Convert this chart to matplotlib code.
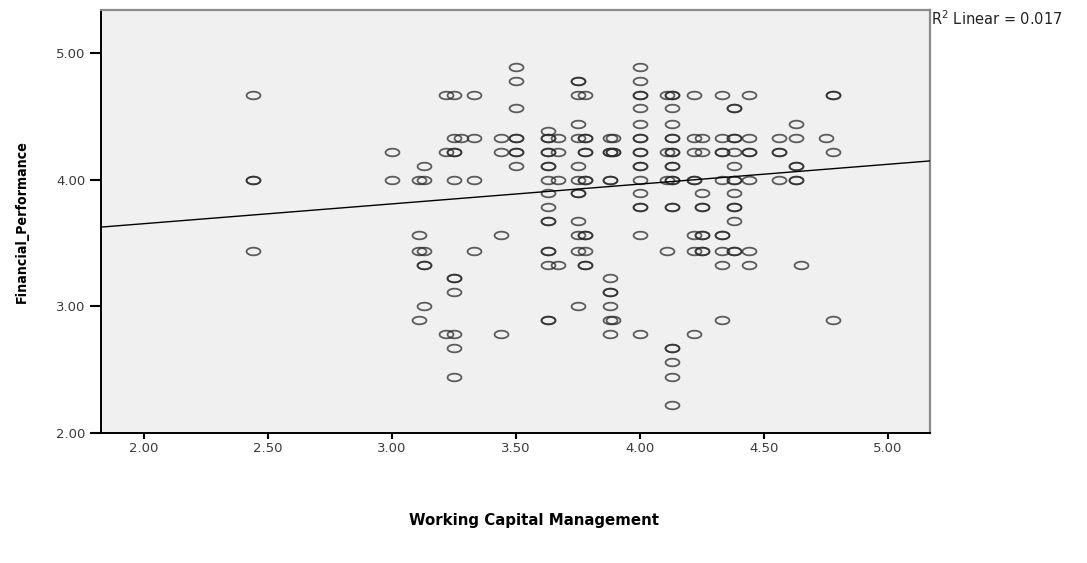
import numpy as np
import matplotlib
matplotlib.use("Agg")
import matplotlib.pyplot as plt
from matplotlib.path import Path

# ---- data; one line per x column ----
wcm = [
    2.44, 2.44, 2.44, 2.44,
    3.00, 3.00,
    3.11, 3.11, 3.11, 3.11,
    3.13, 3.13, 3.13, 3.13, 3.13, 3.13,
    3.22, 3.22, 3.22,
    3.25, 3.25, 3.25, 3.25, 3.25, 3.25, 3.25, 3.25, 3.25, 3.25, 3.25,
    3.28,
    3.33, 3.33, 3.33, 3.33,
    3.44, 3.44, 3.44, 3.44,
    3.50, 3.50, 3.50, 3.50, 3.50, 3.50, 3.50, 3.50,
    3.63, 3.63, 3.63, 3.63, 3.63, 3.63, 3.63, 3.63, 3.63, 3.63, 3.63, 3.63, 3.63, 3.63, 3.63, 3.63, 3.63,
    3.67, 3.67, 3.67, 3.67,
    3.75, 3.75, 3.75, 3.75, 3.75, 3.75, 3.75, 3.75, 3.75, 3.75, 3.75, 3.75, 3.75,
    3.78, 3.78, 3.78, 3.78, 3.78, 3.78, 3.78, 3.78, 3.78, 3.78, 3.78, 3.78,
    3.88, 3.88, 3.88, 3.88, 3.88, 3.88, 3.88, 3.88, 3.88, 3.88, 3.88,
    3.89, 3.89, 3.89, 3.89,
    4.00, 4.00, 4.00, 4.00, 4.00, 4.00, 4.00, 4.00, 4.00, 4.00, 4.00, 4.00, 4.00, 4.00, 4.00, 4.00, 4.00, 4.00,
    4.11, 4.11, 4.11, 4.11,
    4.13, 4.13, 4.13, 4.13, 4.13, 4.13, 4.13, 4.13, 4.13, 4.13, 4.13, 4.13, 4.13, 4.13, 4.13, 4.13, 4.13, 4.13, 4.13,
    4.22, 4.22, 4.22, 4.22, 4.22, 4.22, 4.22, 4.22,
    4.25, 4.25, 4.25, 4.25, 4.25, 4.25, 4.25, 4.25, 4.25,
    4.33, 4.33, 4.33, 4.33, 4.33, 4.33, 4.33, 4.33, 4.33, 4.33,
    4.38, 4.38, 4.38, 4.38, 4.38, 4.38, 4.38, 4.38, 4.38, 4.38, 4.38, 4.38, 4.38, 4.38,
    4.44, 4.44, 4.44, 4.44, 4.44, 4.44, 4.44,
    4.56, 4.56, 4.56, 4.56,
    4.63, 4.63, 4.63, 4.63, 4.63, 4.63,
    4.65,
    4.75,
    4.78, 4.78, 4.78, 4.78,
]
fin_perf = [
    4.67, 4.00, 4.00, 3.44,
    4.22, 4.00,
    4.00, 3.56, 3.44, 2.89,
    4.11, 4.00, 3.44, 3.33, 3.33, 3.00,
    4.67, 4.22, 2.78,
    4.67, 4.33, 4.22, 4.22, 4.00, 3.22, 3.22, 3.11, 2.78, 2.67, 2.44,
    4.33,
    4.67, 4.33, 4.00, 3.44,
    4.33, 4.22, 3.56, 2.78,
    4.89, 4.78, 4.56, 4.33, 4.33, 4.22, 4.22, 4.11,
    4.38, 4.33, 4.33, 4.22, 4.22, 4.11, 4.11, 4.00, 3.89, 3.78, 3.67, 3.67, 3.44, 3.44, 3.33, 2.89, 2.89,
    4.33, 4.22, 4.00, 3.33,
    4.78, 4.78, 4.67, 4.44, 4.33, 4.11, 4.00, 3.89, 3.89, 3.67, 3.56, 3.44, 3.00,
    4.67, 4.33, 4.33, 4.22, 4.22, 4.00, 4.00, 3.56, 3.56, 3.44, 3.33, 3.33,
    4.33, 4.22, 4.22, 4.00, 4.00, 3.22, 3.11, 3.11, 3.00, 2.89, 2.78,
    4.33, 4.22, 4.22, 2.89,
    4.89, 4.78, 4.67, 4.67, 4.56, 4.44, 4.33, 4.33, 4.22, 4.22, 4.11, 4.11, 4.00, 3.89, 3.78, 3.78, 3.56, 2.78,
    4.67, 4.22, 4.00, 3.44,
    4.67, 4.67, 4.56, 4.44, 4.33, 4.33, 4.22, 4.22, 4.11, 4.11, 4.00, 4.00, 3.78, 3.78, 2.67, 2.67, 2.56, 2.44, 2.22,
    4.67, 4.33, 4.22, 4.00, 4.00, 3.56, 3.44, 2.78,
    4.33, 4.22, 3.89, 3.78, 3.78, 3.56, 3.56, 3.44, 3.44,
    4.67, 4.33, 4.22, 4.22, 4.00, 3.56, 3.56, 3.44, 3.33, 2.89,
    4.56, 4.56, 4.33, 4.33, 4.22, 4.11, 4.00, 4.00, 3.89, 3.78, 3.78, 3.67, 3.44, 3.44,
    4.67, 4.33, 4.22, 4.22, 4.00, 3.44, 3.33,
    4.33, 4.22, 4.22, 4.00,
    4.44, 4.33, 4.11, 4.11, 4.00, 4.00,
    3.33,
    4.33,
    4.67, 4.67, 4.22, 2.89,
]
assert len(wcm) == len(fin_perf), (len(wcm), len(fin_perf))

fit_intercept = 3.34
fit_slope = 0.156
r2_text = "R$^{\\mathregular{2}}$ Linear = 0.017"

x_ticks = [2.00, 2.50, 3.00, 3.50, 4.00, 4.50, 5.00]
y_ticks = [2.00, 3.00, 4.00, 5.00]
x_label = "Working Capital Management"
y_label = "Financial_Performance"

# ---- figure ----
plt.rcParams['font.family'] = ['DejaVu Sans']
fig = plt.figure(figsize=(10.87, 5.63), dpi=100)
ax = fig.add_axes([101 / 1087, 1 - 433.3 / 563, (930 - 101) / 1087, (433.3 - 10) / 563])
ax.set_facecolor('#f0f0f0')

# elliptical open marker
t = np.linspace(0, 2 * np.pi, 60)
ell = Path(np.column_stack([np.cos(t), 0.55 * np.sin(t)]), closed=True)

ax.plot(wcm, fin_perf, linestyle='none', marker=ell, markersize=10,
        markerfacecolor='none', markeredgecolor='#2a2a2a', markeredgewidth=1.3,
        alpha=0.75, zorder=3)

xlim = (1.827, 5.17)
ylim = (2.0, 5.336)
xs = np.array(xlim)
ax.plot(xs, fit_intercept + fit_slope * xs, color='black', linewidth=1.0, zorder=4)

ax.set_xlim(*xlim)
ax.set_ylim(*ylim)
ax.set_xticks(x_ticks)
ax.set_xticklabels([f"{v:.2f}" for v in x_ticks])
ax.set_yticks(y_ticks)
ax.set_yticklabels([f"{v:.2f}" for v in y_ticks])
ax.tick_params(axis='x', length=4.5, width=1.5, direction='out', labelsize=9.5,
               labelcolor='#3a3a3a', pad=1.5)
ax.tick_params(axis='y', length=8, width=1.5, direction='out', labelsize=9.5,
               labelcolor='#3a3a3a', pad=3)

for s in ['left', 'bottom']:
    ax.spines[s].set_color('black')
    ax.spines[s].set_linewidth(1.4)
for s in ['top', 'right']:
    ax.spines[s].set_color('#8a8a8a')
    ax.spines[s].set_linewidth(1.6)

fig.text(931 / 1087, 1 - 19 / 563, r2_text, fontsize=10.5, ha='left', va='center',
         color='#222222')
fig.text(534 / 1087, 1 - 521 / 563, x_label, fontsize=10.8, fontweight='bold',
         ha='center', va='center')
fig.text(22 / 1087, 1 - 222 / 563, y_label, fontsize=10.2, fontweight='bold',
         rotation=90, ha='center', va='center',
         family=['Liberation Sans Narrow', 'DejaVu Sans'],
         fontstretch='condensed')

fig.savefig('out.png', dpi=100)
